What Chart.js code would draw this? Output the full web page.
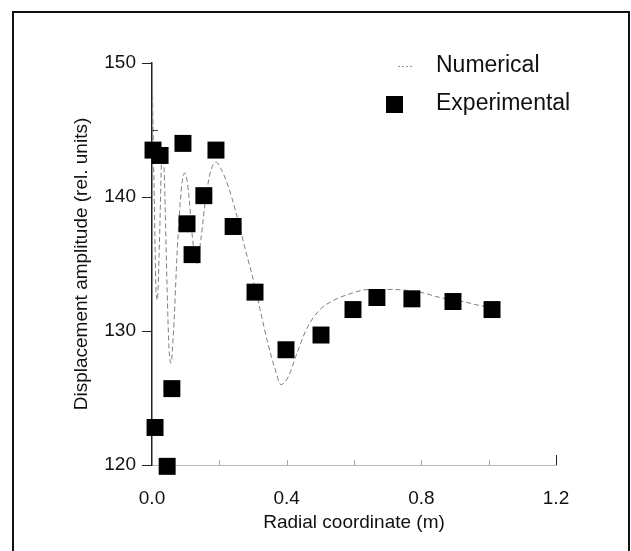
<!DOCTYPE html>
<html>
<head>
<meta charset="utf-8">
<style>
  html, body { margin: 0; padding: 0; background: #fff; }
  #wrap { position: relative; width: 631px; height: 551px; }
</style>
<script src="https://cdn.jsdelivr.net/npm/chart.js@4/dist/chart.umd.min.js"></script>
</head>
<body>
<div id="wrap"><canvas id="grafica" width="631" height="551"></canvas></div>
<script>
// numerical model curve (radial coordinate in m, amplitude in rel. units)
const numX = [0.000, 0.006, 0.012, 0.016, 0.022, 0.030, 0.036, 0.044, 0.050, 0.056,
              0.064, 0.075, 0.088, 0.098, 0.108, 0.120, 0.132, 0.145, 0.160, 0.175,
              0.190, 0.205, 0.225, 0.250, 0.275, 0.306, 0.321, 0.345, 0.365, 0.383,
              0.405, 0.430, 0.460, 0.499, 0.540, 0.579, 0.647, 0.707, 0.796, 0.855,
              0.924, 0.974, 1.004];
const numY = [150.0, 141.0, 133.0, 132.3, 136.5, 143.3, 142.0, 134.0, 129.0, 127.6,
              130.0, 136.0, 140.8, 141.8, 140.5, 137.0, 135.0, 136.8, 140.0, 142.0,
              142.6, 142.1, 140.9, 138.8, 136.3, 133.3, 131.6, 129.0, 127.2, 126.0,
              126.6, 128.3, 130.2, 131.6, 132.3, 132.7, 133.1, 133.1, 132.9, 132.5,
              132.2, 131.9, 131.8];

// measured points
const expX = [0.003, 0.024, 0.092, 0.190, 0.154, 0.104, 0.119, 0.241, 0.306, 0.398,
              0.502, 0.597, 0.668, 0.772, 0.894, 1.010, 0.059, 0.009, 0.045];
const expY = [143.5, 143.1, 144.0, 143.5, 140.1, 138.0, 135.7, 137.8, 132.9, 128.6,
              129.7, 131.6, 132.5, 132.4, 132.2, 131.6, 125.7, 122.8, 119.9];

const xTicks = [0.0, 0.4, 0.8, 1.2];
const yTicks = [120, 130, 140, 150];
const seriesNames = ["Numerical", "Experimental"];

const FONT = "'Liberation Sans', Arial, Helvetica, sans-serif";

const puntos = (xs, ys) => xs.map((x, i) => ({ x: x, y: ys[i] }));

// frame round the figure, small inward ticks and the legend box
const adornos = {
  id: "adornos",
  beforeDraw(chart) {
    const c = chart.ctx;
    c.save();
    c.fillStyle = "#fff";
    c.fillRect(0, 0, chart.width, chart.height);
    c.strokeStyle = "#111";
    c.lineWidth = 2;
    c.strokeRect(13, 12, 616, 600);
    c.restore();
  },
  afterDraw(chart) {
    const c = chart.ctx;
    const xs = chart.scales.x, ys = chart.scales.y;
    c.save();
    // inward ticks on the radial axis
    [0.2, 0.4, 0.6, 0.8, 1.0, 1.2].forEach(v => {
      const px = Math.round(xs.getPixelForValue(v)) + 0.5;
      const big = v === 1.2;
      c.strokeStyle = big ? "#222" : "#aaa";
      c.lineWidth = 1;
      c.beginPath();
      c.moveTo(px, ys.bottom);
      c.lineTo(px, ys.bottom - (big ? 10 : 5));
      c.stroke();
    });
    // minor inward tick at 145
    const p145 = Math.round(ys.getPixelForValue(145)) + 0.5;
    c.strokeStyle = "#444";
    c.beginPath();
    c.moveTo(xs.left, p145);
    c.lineTo(xs.left + 6, p145);
    c.stroke();

    // legend
    c.fillStyle = "#111";
    c.font = "23px " + FONT;
    c.textBaseline = "middle";
    c.fillText(seriesNames[0], 436, 66);
    c.fillText(seriesNames[1], 436, 104);
    c.strokeStyle = "#999";
    c.setLineDash([2, 2]);
    c.beginPath();
    c.moveTo(398, 66.5);
    c.lineTo(414, 66.5);
    c.stroke();
    c.setLineDash([]);
    c.fillStyle = "#000";
    c.fillRect(386, 96, 17, 17);
    c.restore();
  }
};

const ctx = document.getElementById("grafica").getContext("2d");
window.miGrafica = new Chart(ctx, {
  type: "scatter",
  data: {
    datasets: [{
      label: seriesNames[1],
      data: puntos(expX, expY),
      pointStyle: "rect",
      pointRadius: 12,
      pointHoverRadius: 12,
      backgroundColor: "#000",
      borderColor: "#000",
      borderWidth: 0,
      clip: false,
      order: 0
    }, {
      label: seriesNames[0],
      data: puntos(numX, numY),
      showLine: true,
      borderColor: "#808080",
      borderWidth: 1,
      borderDash: [5, 3],
      pointRadius: 0,
      cubicInterpolationMode: "monotone",
      order: 1
    }]
  },
  options: {
    responsive: false,
    animation: false,
    layout: { padding: { left: 0, right: 75, top: 63, bottom: 0 } },
    plugins: {
      legend: { display: false },
      tooltip: { enabled: false }
    },
    scales: {
      x: {
        type: "linear",
        min: 0, max: 1.2,
        afterBuildTicks: s => { s.ticks = xTicks.map(v => ({ value: v })); },
        afterFit: s => { s.height = 86; },
        border: { display: true, color: "#bbb", width: 1, dash: [6, 8] },
        grid: { display: false, drawTicks: false },
        ticks: {
          padding: 22,
          color: "#111",
          font: { family: FONT, size: 19 },
          callback: v => Number(v).toFixed(1)
        },
        title: {
          display: true,
          text: "Radial coordinate (m)",
          color: "#111",
          font: { family: FONT, size: 19 },
          padding: { top: 0, bottom: 17 }
        }
      },
      y: {
        min: 120, max: 150,
        afterBuildTicks: s => { s.ticks = yTicks.map(v => ({ value: v })); },
        afterFit: s => { s.width = 152; },
        border: { display: true, color: "#222", width: 1.5 },
        grid: { drawOnChartArea: false, drawTicks: true, tickLength: 10, color: "#222" },
        ticks: {
          padding: 6,
          color: "#111",
          font: { family: FONT, size: 19 }
        },
        title: {
          display: true,
          text: "Displacement amplitude (rel. units)",
          color: "#111",
          font: { family: FONT, size: 19 },
          padding: { top: 70, bottom: 0 }
        }
      }
    }
  },
  plugins: [adornos]
});
</script>
</body>
</html>
